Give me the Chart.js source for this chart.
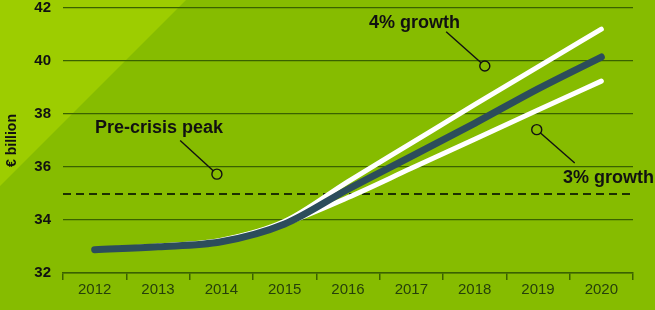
<!DOCTYPE html>
<html><head><meta charset="utf-8">
<script src="https://cdn.jsdelivr.net/npm/chart.js@4.4.1/dist/chart.umd.min.js"></script>
<style>html,body{margin:0;padding:0;background:#86bc00;}#c{display:block;}</style>
</head><body>
<canvas id="c" width="655" height="310"></canvas>
<script>
const categories = ['2012','2013','2014','2015','2016','2017','2018','2019','2020'];
const forecast   = [32.88, 32.99, 33.18, 33.85, 35.16, 36.40, 37.65, 38.95, 40.15];
const growth4    = [32.88, 33.02, 33.24, 33.95, 35.45, 36.90, 38.35, 39.78, 41.20];
const growth3    = [32.88, 33.01, 33.22, 33.87, 34.85, 35.95, 37.05, 38.15, 39.24];
const preCrisisPeak = 35.0;
const yTicks = [32, 34, 36, 38, 40, 42];

const annotations = [
  {text:'Pre-crisis peak', circle:[1.93, 35.73], lineTo:[1.35, 37.0], tx:95, ty:128},
  {text:'4% growth', circle:[6.16, 39.81], lineTo:[5.55, 41.1], tx:369, ty:23},
  {text:'3% growth', circle:[6.98, 37.41], lineTo:[7.58, 36.15], tx:563, ty:178}
];

const gridColor = '#3a6200';
const FONT = '"Liberation Sans", Arial, sans-serif';

const bgPlugin = {
  id:'bg',
  beforeDraw(chart){
    const c = chart.ctx;
    c.save();
    c.fillStyle = '#86bc00';
    c.fillRect(0,0,chart.width,chart.height);
    c.fillStyle = '#9dcd00';
    c.beginPath(); c.moveTo(0,0); c.lineTo(186,0); c.lineTo(0,186); c.closePath(); c.fill();
    c.restore();
  },
  beforeDatasetsDraw(chart){
    const c = chart.ctx, a = chart.chartArea, y = chart.scales.y;
    const py = Math.round(y.getPixelForValue(preCrisisPeak));
    c.save();
    c.strokeStyle = '#1c3000'; c.lineWidth = 1.8; c.setLineDash([8,5]);
    c.beginPath(); c.moveTo(a.left, py); c.lineTo(a.right, py); c.stroke();
    c.restore();
  },
  afterDatasetsDraw(chart){
    const c = chart.ctx, x = chart.scales.x, y = chart.scales.y;
    c.save();
    annotations.forEach(an=>{
      const cx = x.getPixelForValue(an.circle[0]), cy = y.getPixelForValue(an.circle[1]);
      const lx = x.getPixelForValue(an.lineTo[0]), ly = y.getPixelForValue(an.lineTo[1]);
      const r = 5;
      const ang = Math.atan2(ly-cy, lx-cx);
      c.strokeStyle = '#111'; c.lineWidth = 1.4;
      c.beginPath(); c.moveTo(cx + r*Math.cos(ang), cy + r*Math.sin(ang)); c.lineTo(lx, ly); c.stroke();
      c.beginPath(); c.arc(cx, cy, r, 0, Math.PI*2); c.stroke();
      c.fillStyle = '#111';
      c.font = 'bold 18px ' + FONT;
      c.textAlign = 'left'; c.textBaseline = 'middle';
      c.fillText(an.text, an.tx, an.ty);
    });
    c.restore();
  }
};

new Chart(document.getElementById('c'), {
  type:'line',
  data:{
    labels:categories,
    datasets:[
      {label:'Forecast', data:forecast, order:0, borderColor:'#2c4d5b', borderWidth:7, pointRadius:0, cubicInterpolationMode:'monotone', borderCapStyle:'round'},
      {label:'4% growth', data:growth4, order:1, borderColor:'#ffffff', borderWidth:5, pointRadius:0, cubicInterpolationMode:'monotone', borderCapStyle:'round'},
      {label:'3% growth', data:growth3, order:2, borderColor:'#ffffff', borderWidth:5, pointRadius:0, cubicInterpolationMode:'monotone', borderCapStyle:'round'}
    ]
  },
  options:{
    responsive:false, animation:false,
    layout:{padding:{left:4, right:22, top:8, bottom:10}},
    plugins:{legend:{display:false}, tooltip:{enabled:false}},
    scales:{
      x:{
        offset:true,
        grid:{offset:true, drawOnChartArea:false, drawTicks:true, tickLength:7, color:gridColor, lineWidth:1.5},
        border:{display:true, color:gridColor, width:1.5},
        ticks:{color:'#26400a', font:{family:FONT, size:15}, padding:1}
      },
      y:{
        min:32, max:42,
        afterBuildTicks(s){ s.ticks = yTicks.map(v=>({value:v})); },
        afterFit(s){ s.width = 59; s.paddingTop = 0; s.paddingBottom = 0; },
        grid:{color:gridColor, lineWidth:1.3, drawTicks:false},
        border:{display:false},
        title:{display:true, text:'€ billion', color:'#111', font:{family:FONT, size:14, weight:'bold'}, padding:{top:0,bottom:2}},
        ticks:{color:'#111', font:{family:FONT, size:15, weight:'bold'}, padding:12}
      }
    }
  },
  plugins:[bgPlugin]
});
</script>
</body></html>
